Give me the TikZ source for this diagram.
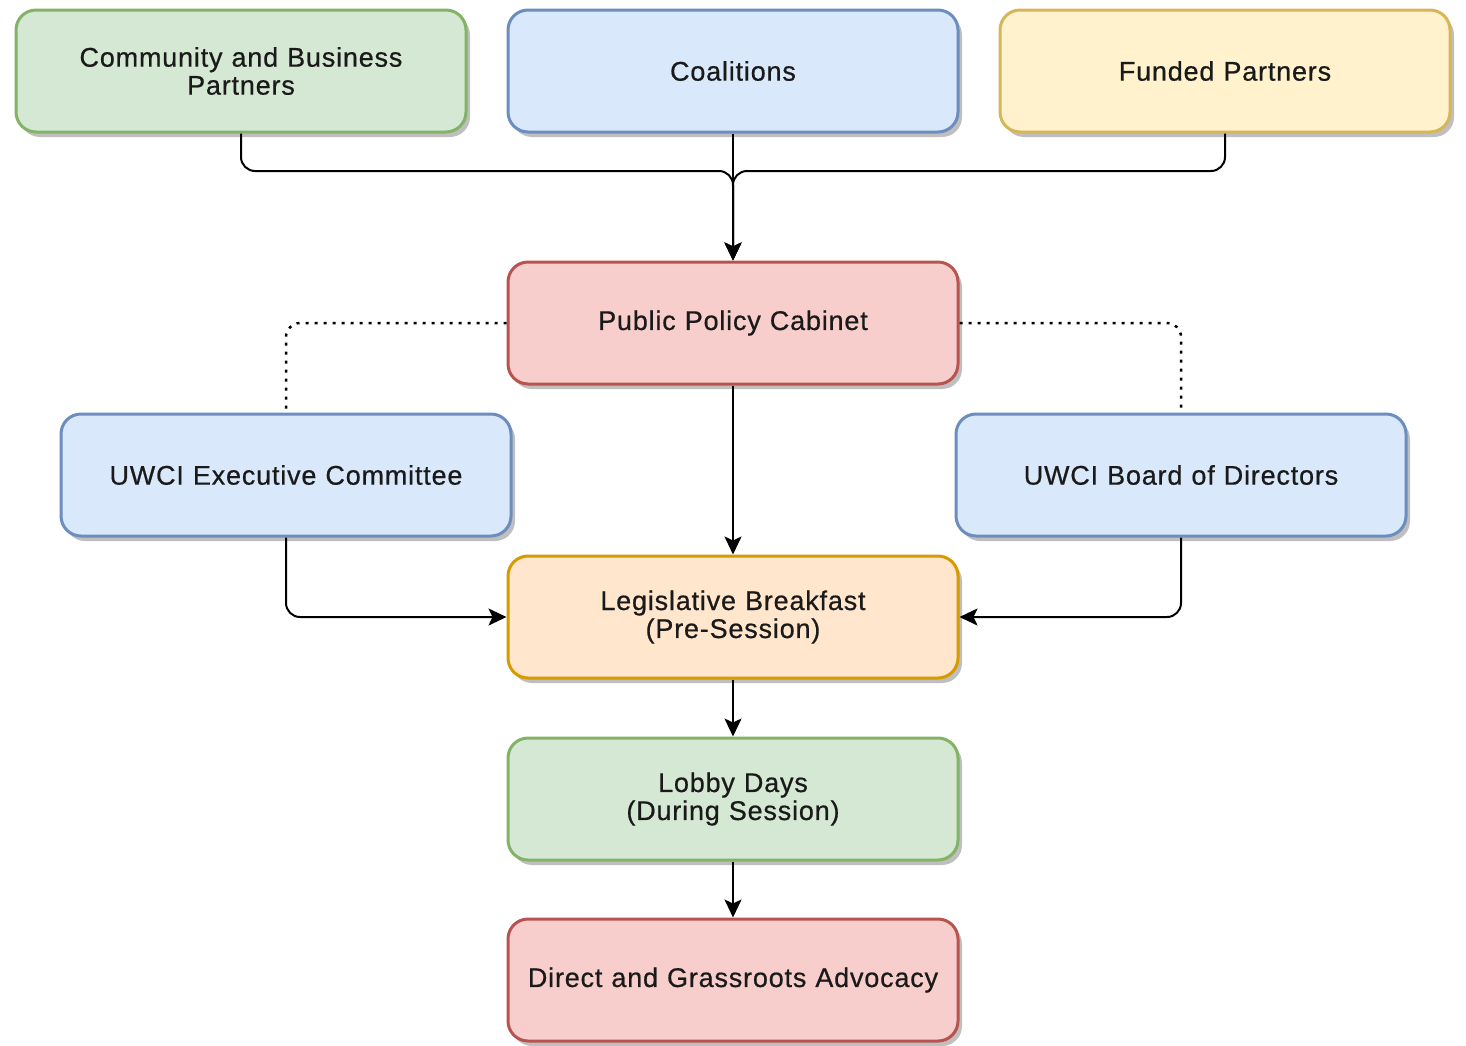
\documentclass[tikz,border=0pt]{standalone}
\usepackage{fontspec}
\setmainfont{Liberation Sans}[LetterSpace=3,FakeBold=0.6]
\usetikzlibrary{arrows.meta,shadows}

\definecolor{greenfill}{HTML}{D5E8D4}
\definecolor{greenline}{HTML}{82B366}
\definecolor{bluefill}{HTML}{DAE8FC}
\definecolor{blueline}{HTML}{6C8EBF}
\definecolor{yellowfill}{HTML}{FFF2CC}
\definecolor{yellowline}{HTML}{D6B656}
\definecolor{redfill}{HTML}{F8CECC}
\definecolor{redline}{HTML}{B85450}
\definecolor{orangefill}{HTML}{FFE6CC}
\definecolor{orangeline}{HTML}{D79B00}
\definecolor{textcol}{HTML}{1A1A1A}

\tikzset{
  box/.style={draw, rounded corners=20pt, line width=3pt, minimum width=450pt,
    minimum height=122pt, text width=430pt, align=center, text=textcol,
    font=\fontsize{27}{28}\selectfont,
    drop shadow={shadow xshift=4pt, shadow yshift=-5pt, fill=black, opacity=.25}},
  greenbox/.style={box, fill=greenfill, draw=greenline},
  bluebox/.style={box, fill=bluefill, draw=blueline},
  yellowbox/.style={box, fill=yellowfill, draw=yellowline},
  redbox/.style={box, fill=redfill, draw=redline},
  orangebox/.style={box, fill=orangefill, draw=orangeline},
  link/.style={line width=2pt, rounded corners=14pt, -{Stealth[length=18pt,width=17pt,inset=4pt]}},
  dotlink/.style={line width=2.5pt, rounded corners=14pt, dash pattern=on 3pt off 6pt}
}

\begin{document}
\begin{tikzpicture}[x=1pt,y=-1pt]
  \useasboundingbox (0,0) rectangle (1466,1045);

  % top row
  \node[greenbox] (partners) at (241,71) {Community and Business\\Partners};
  \node[bluebox] (coalitions) at (733,71) {Coalitions};
  \node[yellowbox] (funded) at (1225,71) {Funded Partners};

  % cabinet and committees
  \node[redbox] (cabinet) at (733,323) {Public Policy Cabinet};
  \node[bluebox] (exec) at (286,475) {UWCI Executive Committee};
  \node[bluebox] (board) at (1181,475) {UWCI Board of Directors};

  % events
  \node[orangebox] (breakfast) at (733,617) {Legislative Breakfast\\(Pre-Session)};
  \node[greenbox] (lobby) at (733,799) {Lobby Days\\(During Session)};
  \node[redbox] (advocacy) at (733,980) {Direct and Grassroots Advocacy};

  % merge into cabinet
  \draw[link] (partners.south) |- (733,171) -- (cabinet.north);
  \draw[link] (funded.south) |- (733,171) -- (cabinet.north);
  \draw[link] (coalitions.south) -- (cabinet.north);

  % dotted ties
  \draw[dotlink] (cabinet.west) -| (exec.north);
  \draw[dotlink] (cabinet.east) -| (board.north);

  % flow down
  \draw[link] (cabinet.south) -- (breakfast.north);
  \draw[link] (exec.south) |- (breakfast.west);
  \draw[link] (board.south) |- (breakfast.east);
  \draw[link] (breakfast.south) -- (lobby.north);
  \draw[link] (lobby.south) -- (advocacy.north);
\end{tikzpicture}
\end{document}
